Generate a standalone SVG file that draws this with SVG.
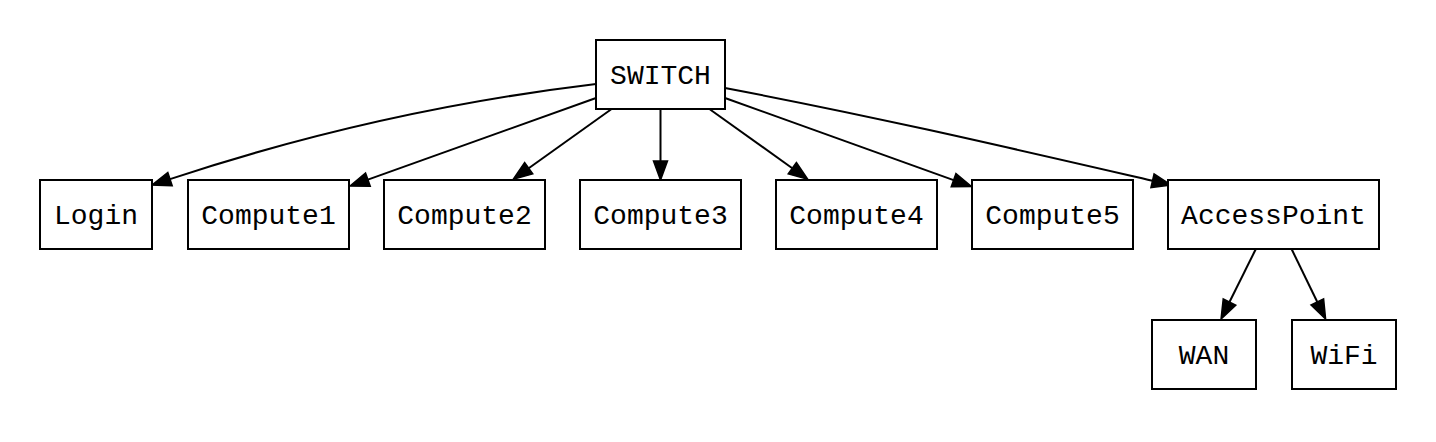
<svg xmlns="http://www.w3.org/2000/svg" width="1436" height="442" viewBox="0 0 1436 442">
<style>
.node rect{fill:#fff;stroke:#000;stroke-width:2}
.node text{font-family:"Liberation Mono","Courier New",monospace;font-size:28px;fill:#000;text-anchor:middle}
.edges path{fill:none;stroke:#000;stroke-width:2;marker-end:url(#arr)}
</style>
<defs>
<marker id="arr" markerUnits="userSpaceOnUse" markerWidth="20" markerHeight="14" refX="0" refY="7" orient="auto" overflow="visible">
<path d="M0,0 L19,7 L0,14 Z" fill="#000" stroke="#000" stroke-width="1.5"/>
</marker>
</defs>
<rect width="1436" height="442" fill="#fff"/>
<g id="edges" class="edges">
<path d="M596,84 C456,100.8 310,132.8 170,179.1"/>
<path d="M596,98 L367.9,179.6"/>
<path d="M611.6,109 L528.7,168.2"/>
<path d="M660.5,109 L660.5,161"/>
<path d="M709.4,109 L792.3,168.2"/>
<path d="M725,98 L953.6,180.1"/>
<path d="M725,88 C875,116.5 1002.5,146.2 1152.5,180.7"/>
<path d="M1255.7,249.3 L1229.5,302"/>
<path d="M1291.7,249.3 L1317.3,302"/>
</g>
<g id="SWITCH" class="node"><rect x="596" y="40" width="129" height="69"/><text x="660.5" y="84">SWITCH</text></g>
<g id="Login" class="node"><rect x="40" y="180" width="112" height="69"/><text x="96" y="224">Login</text></g>
<g id="Compute1" class="node"><rect x="188" y="180" width="161" height="69"/><text x="268.5" y="224">Compute1</text></g>
<g id="Compute2" class="node"><rect x="384" y="180" width="161" height="69"/><text x="464.5" y="224">Compute2</text></g>
<g id="Compute3" class="node"><rect x="580" y="180" width="161" height="69"/><text x="660.5" y="224">Compute3</text></g>
<g id="Compute4" class="node"><rect x="776" y="180" width="161" height="69"/><text x="856.5" y="224">Compute4</text></g>
<g id="Compute5" class="node"><rect x="972" y="180" width="161" height="69"/><text x="1052.5" y="224">Compute5</text></g>
<g id="AccessPoint" class="node"><rect x="1168" y="180" width="211" height="69"/><text x="1273.5" y="224">AccessPoint</text></g>
<g id="WAN" class="node"><rect x="1152" y="320" width="104" height="69"/><text x="1204" y="364">WAN</text></g>
<g id="WiFi" class="node"><rect x="1292" y="320" width="104" height="69"/><text x="1344" y="364">WiFi</text></g>
</svg>
